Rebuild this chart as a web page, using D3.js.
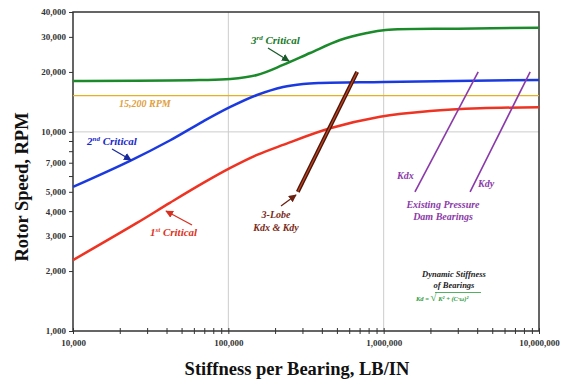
<!DOCTYPE html>
<html lang="en">
<head>
<meta charset="UTF-8">
<title>Critical Speed Map</title>
<script src="https://d3js.org/d3.v7.min.js"></script>
<style>
  body { margin: 0; background: #fff; }
  svg text { font-family: "Liberation Serif", "DejaVu Serif", serif; font-weight: bold; }
  .tick-label { font-size: 9px; fill: #333; }
  .note { font-style: italic; }
</style>
</head>
<body>
<svg width="561" height="379"></svg>
<script>
// ---- data ----
var xTicks = [1e4, 1e5, 1e6, 1e7];
var yTicks = [1000, 2000, 3000, 4000, 5000, 7000, 10000, 20000, 30000, 40000];
var yMinor = [6000, 8000, 9000];

var crit1K   = [10000, 25800, 42000, 69000, 103000, 153000, 225000, 452000, 948000, 1990000, 4180000, 10000000];
var crit1Rpm = [2270, 3490, 4400, 5540, 6590, 7660, 8600, 10420, 11920, 12740, 13140, 13290];

var crit2K   = [10000, 23300, 42000, 69000, 103000, 153000, 225000, 303000, 390000, 1000000, 10000000];
var crit2Rpm = [5290, 7150, 9050, 11300, 13340, 15320, 16810, 17400, 17600, 17800, 18230];

var crit3K   = [10000, 65000, 103000, 153000, 225000, 336000, 524000, 780000, 1030000, 3000000, 10000000];
var crit3Rpm = [18000, 18200, 18440, 19310, 21680, 24900, 28940, 31380, 32500, 33000, 33300];

var opSpeed = 15200;

// bearing stiffness lines (start / end)
var lobeK = [280000, 675000], lobeRpm = [5000, 20000];
var kdxK  = [1590000, 4060000], kdxRpm = [5000, 20000];
var kdyK  = [3600000, 8770000], kdyRpm = [5000, 20000];

// ---- layout ----
var svg = d3.select("svg");
var pL = 73, pR = 539, pT = 12, pB = 331;

var x = d3.scaleLog().domain([1e4, 1e7]).range([pL, pR]);
var y = d3.scaleLog().domain([1000, 40000]).range([pB, pT]);

var fmt = d3.format(",");

// grid
svg.append("g").selectAll("line")
  .data([1e5, 1e6]).enter().append("line")
  .attr("x1", d => x(d)).attr("x2", d => x(d))
  .attr("y1", pT).attr("y2", pB)
  .attr("stroke", "#ccc").attr("stroke-width", 1);
svg.append("line")
  .attr("x1", pL).attr("x2", pR)
  .attr("y1", y(10000)).attr("y2", y(10000))
  .attr("stroke", "#ccc").attr("stroke-width", 1);

// axes
var xMinor = [];
[1e4, 1e5, 1e6].forEach(function(b) { for (var i = 2; i <= 9; i++) xMinor.push(b * i); });

var xAxis = d3.axisBottom(x).tickValues(xTicks.concat(xMinor))
  .tickFormat(d => xTicks.indexOf(d) >= 0 ? fmt(d) : "")
  .tickSizeInner(3).tickSizeOuter(0).tickPadding(6);
var gx = svg.append("g").attr("transform", "translate(0," + pB + ")").call(xAxis);
gx.selectAll(".tick line").attr("y1", -3).attr("stroke", "#333");
gx.select(".domain").remove();
gx.selectAll("text").attr("class", "tick-label").attr("font-family", null).attr("font-size", null);

var yAxis = d3.axisLeft(y).tickValues(yTicks.concat(yMinor))
  .tickFormat(d => yTicks.indexOf(d) >= 0 ? fmt(d) : "")
  .tickSizeInner(4).tickSizeOuter(0).tickPadding(3);
var gy = svg.append("g").attr("transform", "translate(" + pL + ",0)").call(yAxis);
gy.selectAll(".tick line").attr("stroke", "#333");
gy.select(".domain").remove();
gy.selectAll("text").attr("class", "tick-label").attr("font-family", null).attr("font-size", null);

// frame
svg.append("rect")
  .attr("x", pL).attr("y", pT)
  .attr("width", pR - pL).attr("height", pB - pT)
  .attr("fill", "none").attr("stroke", "#333").attr("stroke-width", 1.5);

// axis titles
svg.append("text")
  .attr("x", 297).attr("y", 375)
  .attr("text-anchor", "middle").attr("font-size", 18.5).attr("fill", "#111")
  .text("Stiffness per Bearing, LB/IN");
svg.append("text")
  .attr("transform", "translate(28,187) rotate(-90)")
  .attr("text-anchor", "middle").attr("font-size", 18.5).attr("fill", "#111")
  .text("Rotor Speed, RPM");

// arrow markers
var defs = svg.append("defs");
function marker(id, color) {
  defs.append("marker").attr("id", id)
    .attr("viewBox", "0 0 10 10").attr("refX", 9).attr("refY", 5)
    .attr("markerWidth", 6).attr("markerHeight", 6).attr("orient", "auto")
    .append("path").attr("d", "M0,0L10,5L0,10z").attr("fill", color);
}
marker("a-green", "#1a5a2a");
marker("a-blue", "#1a2a9a");
marker("a-red", "#d83020");
marker("a-brown", "#6a2010");

// operating speed line
svg.append("line")
  .attr("x1", pL).attr("x2", pR)
  .attr("y1", y(opSpeed)).attr("y2", y(opSpeed))
  .attr("stroke", "#e8b020").attr("stroke-width", 1.3);

// critical speed curves
var line = d3.line().curve(d3.curveCatmullRom.alpha(0.5))
  .x(d => x(d[0])).y(d => y(d[1]));

function curve(ks, rpms, color) {
  svg.append("path")
    .datum(d3.zip(ks, rpms))
    .attr("d", line)
    .attr("fill", "none").attr("stroke", color).attr("stroke-width", 2.5);
}
curve(crit3K, crit3Rpm, "#1a8a2a");
curve(crit2K, crit2Rpm, "#1a3ae0");
curve(crit1K, crit1Rpm, "#ee3322");

// bearing lines
var straight = d3.line().x(d => x(d[0])).y(d => y(d[1]));
svg.append("path").datum(d3.zip(lobeK, lobeRpm)).attr("d", straight)
  .attr("stroke", "#4a1508").attr("stroke-width", 4).attr("fill", "none");
svg.append("path").datum(d3.zip(lobeK, lobeRpm)).attr("d", straight)
  .attr("stroke", "#c04525").attr("stroke-width", 1.3).attr("fill", "none");
[[kdxK, kdxRpm], [kdyK, kdyRpm]].forEach(function(p) {
  svg.append("path").datum(d3.zip(p[0], p[1])).attr("d", straight)
    .attr("stroke", "#8a3aa8").attr("stroke-width", 1.6).attr("fill", "none");
});

// annotations
function note(txt, xp, yp, color, size, anchor) {
  return svg.append("text").attr("class", "note")
    .attr("x", xp).attr("y", yp).attr("fill", color)
    .attr("font-size", size).attr("text-anchor", anchor || "start")
    .text(txt);
}
function sup(xp, yp, base, s, rest, color) {
  var t = svg.append("text").attr("class", "note")
    .attr("x", xp).attr("y", yp).attr("fill", color).attr("font-size", 11);
  t.append("tspan").text(base);
  t.append("tspan").attr("font-size", 7).attr("dy", -4).text(s);
  t.append("tspan").attr("dy", 4).text(rest);
}
function arrow(x1, y1, x2, y2, id, color) {
  svg.append("line").attr("x1", x1).attr("y1", y1).attr("x2", x2).attr("y2", y2)
    .attr("stroke", color).attr("stroke-width", 1.3)
    .attr("marker-end", "url(#" + id + ")");
}

sup(251, 44, "3", "rd", " Critical", "#1a7a2a");
arrow(268, 48, 289, 61, "a-green", "#1a5a2a");

sup(87, 145, "2", "nd", " Critical", "#1a2acc");
arrow(112, 149, 131, 160, "a-blue", "#1a2a9a");

sup(150, 236, "1", "st", " Critical", "#dd3322");
arrow(192, 225, 166, 211, "a-red", "#d83020");

note("15,200 RPM", 119, 107, "#e0a040", 10);

note("3-Lobe", 276, 218, "#7a2a18", 10, "middle");
note("Kdx & Kdy", 276, 231, "#7a2a18", 10, "middle");
arrow(281, 206, 296, 195, "a-brown", "#6a2010");

note("Kdx", 397, 179, "#8a3aa8", 10);
note("Kdy", 478, 187, "#8a3aa8", 10);
note("Existing Pressure", 443, 208, "#8a3aa8", 10, "middle");
note("Dam Bearings", 443, 220, "#8a3aa8", 10, "middle");

note("Dynamic Stiffness", 454, 277, "#222", 8.5, "middle");
note("of Bearings", 454, 288, "#222", 8.5, "middle");
var f = svg.append("text").attr("class", "note")
  .attr("x", 416).attr("y", 301).attr("fill", "#2a9a3a").attr("font-size", 6.5);
f.append("tspan").text("Kd = ");
f.append("tspan").attr("font-size", 11).attr("font-style", "normal").text("\u221A");
f.append("tspan").text(" K\u00B2 + (C\u00B7\u03C9)\u00B2");
svg.append("line").attr("x1", 435).attr("x2", 481)
  .attr("y1", 292.5).attr("y2", 292.5)
  .attr("stroke", "#2a9a3a").attr("stroke-width", 0.8);
</script>
</body>
</html>
